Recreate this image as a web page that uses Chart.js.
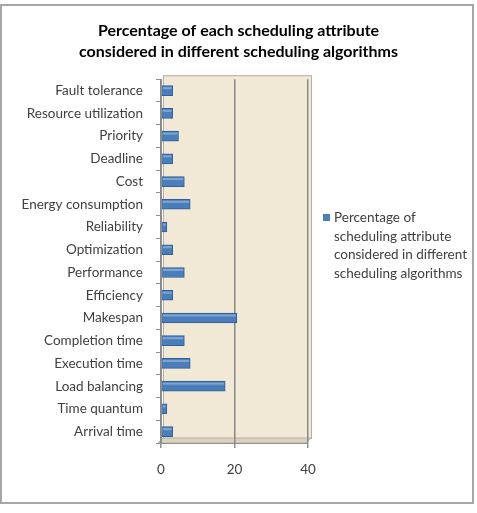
<!DOCTYPE html>
<html>
<head>
<meta charset="utf-8">
<script src="https://cdn.jsdelivr.net/npm/chart.js@4.4.1/dist/chart.umd.min.js"></script>
<style>
    html, body { margin: 0; padding: 0; background: #fff; }
    #wrap { position: relative; width: 477px; height: 513px; }
</style>
</head>
<body>
<div id="wrap"><canvas id="attrChart" width="477" height="513"></canvas></div>
<script>
// Data (percent of 63 papers)
const attributes = [
    'Fault tolerance', 'Resource utilization', 'Priority', 'Deadline', 'Cost',
    'Energy consumption', 'Reliability', 'Optimization', 'Performance', 'Efficiency',
    'Makespan', 'Completion time', 'Execution time', 'Load balancing', 'Time quantum',
    'Arrival time'
];
const percentages = [
    3.17, 3.17, 4.76, 3.17, 6.35,
    7.94, 1.59, 3.17, 6.35, 3.17,
    20.63, 6.35, 7.94, 17.46, 1.59,
    3.17
];
const xTicks = [0, 20, 40];
const titleLines = ['Percentage of each scheduling attribute', 'considered in different scheduling algorithms'];
const legendLines = ['Percentage of', 'scheduling attribute', 'considered in different', 'scheduling algorithms'];

const FONT = 'Lato, "Open Sans", sans-serif';
const BAR_BLUE = '#4A7EBB';

/* ---- back wall, floor and outer frame ---- */
const wallPlugin = {
    id: 'wall',
    beforeDraw(chart) {
        const { ctx, chartArea: a } = chart;
        ctx.save();
        // outer frame
        ctx.strokeStyle = '#a6a6a6';
        ctx.lineWidth = 2;
        ctx.strokeRect(1, 5, 472, 498);

        // wall
        ctx.fillStyle = '#F1E8D5';
        ctx.fillRect(a.left + 2, a.top - 4, a.right - a.left + 1, a.bottom - a.top - 1);
        ctx.strokeStyle = '#b5b0a4';
        ctx.lineWidth = 1;
        ctx.strokeRect(a.left + 2.5, a.top - 3.5, a.right - a.left + 1, a.bottom - a.top - 1);

        // floor
        ctx.fillStyle = '#DCD3BE';
        ctx.beginPath();
        ctx.moveTo(a.left - 3, a.bottom);
        ctx.lineTo(a.left + 2, a.bottom - 5);
        ctx.lineTo(a.right + 3, a.bottom - 5);
        ctx.lineTo(a.right - 2, a.bottom);
        ctx.closePath();
        ctx.fill();
        ctx.strokeStyle = '#b5b0a4';
        ctx.stroke();
        ctx.restore();
    },
    afterDatasetsDraw(chart) {
        // light stripe on top of each bar for the rounded look
        const { ctx } = chart;
        const meta = chart.getDatasetMeta(0);
        ctx.save();
        meta.data.forEach(bar => {
            const h = bar.height;
            const top = bar.y - h / 2;
            ctx.fillStyle = 'rgba(255,255,255,0.3)';
            ctx.fillRect(bar.base + 1, top + 1.5, bar.x - bar.base - 2, 2);
        });
        ctx.restore();
    }
};

/* ---- legend with wrapped text on the right ---- */
const sideLegend = {
    id: 'sideLegend',
    afterDraw(chart) {
        const { ctx } = chart;
        const x = 323, y0 = 218, lh = 18.5;
        ctx.save();
        ctx.fillStyle = BAR_BLUE;
        ctx.fillRect(x, y0 - 4, 7, 7);
        ctx.fillStyle = '#404040';
        ctx.font = '13.5px ' + FONT;
        ctx.textBaseline = 'middle';
        legendLines.forEach((line, i) => {
            ctx.fillText(line, x + 11, y0 + i * lh);
        });
        ctx.restore();
    }
};

new Chart(document.getElementById('attrChart'), {
    type: 'bar',
    data: {
        labels: attributes,
        datasets: [{
            label: legendLines.join(' '),
            data: percentages,
            backgroundColor: BAR_BLUE,
            borderColor: '#2F5E98',
            borderWidth: 1,
            barThickness: 10
        }]
    },
    options: {
        indexAxis: 'y',
        animation: false,
        responsive: false,
        layout: { padding: 0 },
        plugins: {
            legend: { display: false },
            tooltip: { enabled: false },
            title: {
                display: true,
                text: titleLines,
                color: '#000',
                font: { family: FONT, size: 16, weight: 'bold', lineHeight: 1.32 },
                padding: { top: 20, bottom: 17 }
            }
        },
        scales: {
            x: {
                min: 0,
                max: 40,
                afterBuildTicks: s => { s.ticks = xTicks.map(v => ({ value: v })); },
                afterFit: s => { s.height = 70; },
                ticks: {
                    color: '#404040',
                    font: { family: FONT, size: 13.5 },
                    padding: 14
                },
                grid: {
                    color: '#8a8a8a',
                    tickColor: '#8f8f8f',
                    tickLength: 5,
                    lineWidth: 1.5
                },
                border: { display: true, color: '#8f8f8f' }
            },
            y: {
                afterFit: s => { s.width = 161; },
                ticks: {
                    color: '#404040',
                    font: { family: FONT, size: 13.5 },
                    padding: 13
                },
                grid: {
                    offset: true,
                    drawOnChartArea: false,
                    tickColor: '#8f8f8f',
                    tickLength: 5
                },
                border: { display: true, color: '#8f8f8f' }
            },
            // empty scale on the right keeps room for the wrapped legend
            side: {
                type: 'linear',
                position: 'right',
                display: true,
                afterFit: s => { s.width = 169; },
                ticks: { display: false },
                grid: { display: false },
                border: { display: false }
            }
        }
    },
    plugins: [wallPlugin, sideLegend]
});
</script>
</body>
</html>
